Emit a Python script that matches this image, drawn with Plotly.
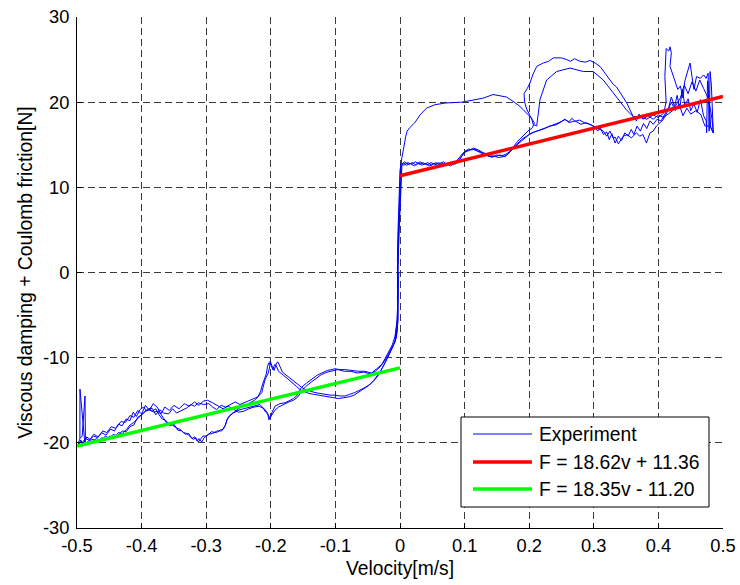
import plotly.graph_objects as go

# ---------------------------------------------------------------------------
# Measured friction force vs. velocity (one continuous record, several cycles)
# ---------------------------------------------------------------------------
# stick -> slip transition, first rise through zero velocity
rise1_v = [-0.008, -0.005, -0.003, -0.004, -0.003, -0.002, -0.001, 0.000, 0.001]
rise1_f = [-7.9, -6.0, -3.0, 0.5, 3.5, 6.5, 9.0, 11.5, 12.6]

# positive side, upper branch and inner loop (first cycle)
pos_up1_v = [0.003, 0.006, 0.009, 0.011, 0.015, 0.023, 0.031, 0.041, 0.054, 0.070,
             0.085, 0.0955, 0.110, 0.119, 0.130, 0.144, 0.155, 0.165, 0.175, 0.184,
             0.191, 0.196, 0.201, 0.2038, 0.206, 0.2116, 0.2167, 0.227, 0.2426, 0.2632,
             0.2838, 0.299, 0.3147, 0.330, 0.3505, 0.361, 0.372, 0.382, 0.392, 0.400,
             0.408, 0.412, 0.410, 0.412, 0.416, 0.418, 0.420, 0.418, 0.424, 0.430,
             0.434, 0.438, 0.441, 0.446, 0.449, 0.452, 0.455, 0.459, 0.465, 0.470,
             0.474, 0.477, 0.4785, 0.480, 0.482, 0.485]
pos_up1_f = [13.5, 15.0, 16.0, 16.6, 17.0, 17.6, 18.5, 19.3, 19.7, 19.9,
             20.0, 20.0, 20.2, 20.3, 20.5, 20.9, 20.7, 20.6, 20.1, 19.6,
             19.1, 18.7, 18.3, 18.1, 17.4, 17.2, 20.3, 22.6, 23.6, 24.0,
             23.6, 23.6, 22.6, 21.1, 19.1, 18.3, 18.3, 18.0, 18.5, 18.2,
             18.7, 20.0, 23.0, 26.3, 26.0, 26.5, 25.8, 24.2, 22.8, 21.5,
             21.9, 20.5, 22.5, 24.0, 24.6, 23.0, 21.5, 23.0, 22.8, 23.2,
             22.8, 23.4, 16.6, 23.6, 22.0, 16.4]

# positive side, lower branch travelled back toward zero (first cycle)
pos_dn1_v = [0.480, 0.472, 0.466, 0.458, 0.450, 0.444, 0.438, 0.432, 0.426, 0.420,
             0.414, 0.407, 0.397, 0.392, 0.387, 0.3815, 0.376, 0.371, 0.366, 0.358,
             0.352, 0.3456, 0.338, 0.333, 0.330, 0.325, 0.320, 0.3147, 0.309, 0.304,
             0.296, 0.288, 0.280, 0.271, 0.262, 0.255, 0.248, 0.240, 0.232, 0.224,
             0.216, 0.208, 0.200, 0.192, 0.185, 0.178, 0.172, 0.166, 0.160, 0.152,
             0.145, 0.138, 0.130, 0.124, 0.118, 0.112, 0.106, 0.100, 0.096, 0.092,
             0.088, 0.082, 0.076, 0.070, 0.064, 0.058, 0.052, 0.046, 0.040, 0.034,
             0.028, 0.022, 0.016, 0.010, 0.005, 0.002]
pos_dn1_f = [17.2, 17.2, 18.5, 19.0, 18.6, 19.3, 18.4, 19.8, 19.0, 20.0,
             18.9, 17.9, 17.2, 16.6, 16.4, 15.2, 16.2, 16.0, 16.4, 15.8,
             16.2, 16.0, 15.1, 15.9, 15.8, 16.6, 16.0, 16.6, 16.8, 17.0,
             17.3, 17.6, 17.4, 17.8, 17.6, 18.0, 17.6, 17.3, 17.2, 16.9,
             16.7, 16.5, 16.2, 15.7, 15.2, 14.8, 14.3, 13.8, 13.6, 13.5,
             13.7, 13.6, 13.9, 14.2, 14.3, 14.5, 14.3, 14.1, 13.7, 13.3,
             12.9, 12.7, 12.9, 12.6, 12.9, 12.6, 12.8, 12.5, 12.8, 12.6,
             12.9, 12.5, 12.8, 12.6, 12.9, 12.4]

# drop through zero velocity (first cycle)
fall1_v = [0.001, 0.000, -0.002, -0.003, -0.004, -0.003, -0.005, -0.008]
fall1_f = [11.0, 8.0, 4.0, 0.0, -3.0, -5.5, -7.3, -8.2]

# negative side toward -0.5 m/s (first cycle)
neg_out1_v = [-0.013, -0.018, -0.023, -0.028, -0.033, -0.039, -0.046, -0.054, -0.062, -0.070,
              -0.078, -0.085, -0.093, -0.1006, -0.108, -0.116, -0.124, -0.1316, -0.140, -0.147,
              -0.152, -0.157, -0.163, -0.168, -0.173, -0.178, -0.182, -0.186, -0.189, -0.191,
              -0.195, -0.198, -0.201, -0.202, -0.204, -0.207, -0.209, -0.212, -0.214, -0.220,
              -0.226, -0.233, -0.240, -0.2477, -0.255, -0.263, -0.270, -0.277, -0.284, -0.290,
              -0.296, -0.3045, -0.312, -0.318, -0.324, -0.330, -0.338, -0.346, -0.352, -0.358,
              -0.366, -0.372, -0.378, -0.383, -0.387, -0.392, -0.397, -0.4025, -0.408, -0.413,
              -0.418, -0.424, -0.430, -0.436, -0.442, -0.448, -0.455, -0.462, -0.468, -0.474,
              -0.480, -0.485, -0.488, -0.4954, -0.4955, -0.492, -0.4876, -0.4870, -0.490, -0.494,
              -0.497]
neg_out1_f = [-9.1, -9.8, -10.6, -11.4, -12.0, -12.6, -13.1, -13.5, -13.8, -14.1,
              -14.3, -14.5, -14.5, -14.4, -14.4, -14.3, -14.2, -14.1, -13.9, -13.75,
              -13.5, -13.2, -12.8, -12.5, -12.2, -12.0, -11.7, -11.0, -10.5, -10.6,
              -11.5, -11.0, -10.4, -11.2, -11.8, -12.3, -12.6, -13.5, -14.1, -14.6,
              -14.8, -15.0, -15.3, -15.5, -15.2, -15.5, -15.8, -15.6, -16.1, -15.8,
              -15.4, -15.5, -15.3, -15.7, -15.5, -15.9, -16.2, -16.5, -16.0, -16.6,
              -16.5, -16.1, -16.7, -16.0, -15.9, -16.3, -15.8, -16.1, -16.9, -16.4,
              -17.4, -17.2, -18.0, -17.8, -18.6, -18.4, -19.1, -18.8, -19.4, -19.2,
              -19.6, -19.3, -19.9, -13.7, -19.5, -19.2, -14.5, -19.6, -20.1, -19.7,
              -20.3]

# negative side back toward zero (first cycle)
neg_in1_v = [-0.492, -0.486, -0.480, -0.475, -0.468, -0.462, -0.455, -0.449, -0.442, -0.436,
             -0.430, -0.423, -0.418, -0.412, -0.407, -0.4025, -0.398, -0.393, -0.387, -0.381,
             -0.376, -0.3715, -0.366, -0.3613, -0.356, -0.350, -0.345, -0.3406, -0.335, -0.330,
             -0.325, -0.320, -0.316, -0.3122, -0.309, -0.305, -0.2993, -0.292, -0.284, -0.278,
             -0.2735, -0.270, -0.268, -0.263, -0.258, -0.2477, -0.242, -0.237, -0.230, -0.224,
             -0.2167, -0.212, -0.208, -0.205, -0.2012, -0.198, -0.1935, -0.186, -0.178, -0.170,
             -0.165, -0.160, -0.156, -0.1527, -0.145, -0.137, -0.129, -0.1212, -0.112, -0.1006,
             -0.093, -0.085, -0.075, -0.0646, -0.055, -0.044, -0.036, -0.0283, -0.023, -0.018,
             -0.012, -0.0077]
neg_in1_f = [-20.4, -20.0, -19.7, -19.6, -19.9, -19.4, -19.6, -19.2, -19.4, -18.8,
             -18.9, -18.4, -17.9, -17.6, -17.2, -16.9, -16.5, -16.2, -16.1, -16.4,
             -16.3, -16.5, -17.1, -17.65, -17.7, -18.0, -18.3, -18.4, -18.8, -18.9,
             -19.2, -19.6, -19.4, -19.9, -19.6, -19.2, -19.2, -18.7, -18.8, -18.5,
             -18.4, -17.9, -17.3, -16.8, -16.5, -16.1, -16.0, -15.9, -15.7, -15.6,
             -15.5, -15.9, -16.4, -16.6, -17.1, -16.4, -15.7, -15.4, -15.3, -15.0,
             -14.8, -14.5, -14.0, -13.5, -13.0, -12.55, -12.1, -11.8, -11.5, -11.3,
             -11.4, -11.4, -11.5, -11.6, -11.6, -11.8, -11.3, -10.8, -10.1, -9.45,
             -8.5, -7.5]

# second rise through zero velocity
rise2_v = [-0.004, -0.003, -0.004, -0.003, -0.002, -0.001, 0.000, 0.002]
rise2_f = [-5.5, -2.0, 1.5, 5.0, 8.0, 10.5, 12.0, 12.9]

# positive side, lower branch outward (second cycle)
pos_up2_v = [0.006, 0.012, 0.018, 0.024, 0.030, 0.036, 0.042, 0.048, 0.054, 0.060,
             0.066, 0.072, 0.078, 0.084, 0.089, 0.093, 0.097, 0.101, 0.106, 0.111,
             0.116, 0.121, 0.126, 0.132, 0.139, 0.147, 0.155, 0.1625, 0.168, 0.173,
             0.180, 0.188, 0.196, 0.204, 0.212, 0.219, 0.227, 0.235, 0.243, 0.250,
             0.2554, 0.262, 0.266, 0.271, 0.278, 0.2864, 0.294, 0.3019, 0.306, 0.310,
             0.315, 0.320, 0.324, 0.328, 0.333, 0.338, 0.343, 0.348, 0.353, 0.358,
             0.362, 0.367, 0.372, 0.377, 0.382, 0.387, 0.392, 0.398, 0.404, 0.410,
             0.416, 0.420, 0.425, 0.429, 0.433, 0.437, 0.441, 0.446, 0.450, 0.455,
             0.460, 0.465, 0.470, 0.474, 0.4747, 0.476, 0.478, 0.481, 0.485, 0.483]
pos_up2_f = [12.6, 12.9, 12.7, 13.0, 12.7, 12.9, 12.6, 12.9, 12.7, 12.9,
             12.6, 12.8, 12.5, 12.8, 13.2, 13.6, 14.0, 14.2, 14.5, 14.4,
             14.5, 14.2, 14.0, 13.8, 13.7, 13.6, 13.8, 13.6, 14.0, 14.4,
             15.0, 15.6, 16.0, 16.4, 16.6, 16.8, 17.0, 17.2, 17.5, 17.75,
             17.95, 17.7, 18.1, 17.75, 17.9, 17.55, 17.4, 17.1, 16.6, 17.0,
             16.2, 16.5, 15.6, 16.3, 15.2, 16.0, 15.5, 16.4, 16.0, 16.8,
             16.2, 17.2, 16.6, 17.5, 16.9, 17.8, 17.4, 18.0, 17.8, 18.6,
             19.4, 20.6, 19.5, 20.8, 19.2, 21.5, 19.6, 20.4, 19.0, 19.8,
             18.8, 20.3, 18.4, 17.8, 16.4, 22.5, 21.0, 17.0, 16.4, 18.0]

# positive side, return over the large outer loop (second cycle)
pos_dn2_v = [0.478, 0.470, 0.464, 0.458, 0.452, 0.446, 0.440, 0.434, 0.428, 0.422,
             0.415, 0.408, 0.400, 0.392, 0.384, 0.376, 0.370, 0.366, 0.361, 0.356,
             0.351, 0.346, 0.341, 0.335, 0.330, 0.325, 0.318, 0.3096, 0.302, 0.294,
             0.287, 0.2786, 0.270, 0.264, 0.258, 0.250, 0.2373, 0.230, 0.2218, 0.2116,
             0.206, 0.2012, 0.197, 0.192, 0.193, 0.196, 0.200, 0.204, 0.208, 0.205,
             0.198, 0.190, 0.182, 0.175, 0.170, 0.164, 0.157, 0.150, 0.142, 0.135,
             0.128, 0.121, 0.114, 0.108, 0.102, 0.098, 0.094, 0.090, 0.085, 0.079,
             0.073, 0.067, 0.061, 0.055, 0.049, 0.043, 0.037, 0.031, 0.025, 0.019,
             0.013, 0.007, 0.003, 0.002]
pos_dn2_f = [20.3, 21.6, 22.6, 21.3, 22.4, 21.0, 22.0, 20.5, 19.8, 19.0,
             18.6, 18.2, 18.5, 18.0, 18.4, 18.0, 18.6, 17.8, 18.3, 19.2,
             19.9, 20.5, 21.1, 21.8, 22.1, 22.6, 23.4, 24.2, 24.6, 24.9,
             24.7, 24.8, 25.1, 24.8, 25.0, 25.2, 25.2, 24.8, 24.6, 24.2,
             23.3, 22.25, 21.6, 21.0, 20.0, 19.2, 18.6, 18.0, 17.6, 17.0,
             16.6, 16.0, 15.4, 14.7, 14.2, 13.9, 13.7, 13.8, 13.5, 13.9,
             14.1, 14.4, 14.6, 14.4, 14.3, 13.9, 13.4, 13.0, 12.7, 12.9,
             12.7, 13.0, 12.7, 12.9, 12.6, 12.9, 12.7, 13.0, 12.6, 12.9,
             12.7, 13.0, 12.7, 11.5]

# second drop through zero velocity
fall2_v = [0.001, -0.001, -0.003, -0.004, -0.003, -0.004, -0.007]
fall2_f = [9.0, 6.0, 2.0, -1.5, -4.5, -6.5, -8.0]

# negative side toward -0.5 m/s (second cycle)
neg_out2_v = [-0.012, -0.018, -0.025, -0.031, -0.038, -0.046, -0.056, -0.066, -0.076, -0.086,
              -0.096, -0.104, -0.113, -0.122, -0.130, -0.138, -0.146, -0.152, -0.158, -0.165,
              -0.172, -0.180, -0.188, -0.194, -0.199, -0.203, -0.205, -0.210, -0.218, -0.226,
              -0.234, -0.242, -0.250, -0.258, -0.266, -0.274, -0.282, -0.290, -0.298, -0.3045,
              -0.311, -0.318, -0.326, -0.334, -0.342, -0.350, -0.357, -0.364, -0.370, -0.376,
              -0.382, -0.388, -0.394, -0.400, -0.406, -0.412, -0.418, -0.425, -0.432, -0.440,
              -0.447, -0.454, -0.460, -0.467, -0.474, -0.481, -0.487, -0.492, -0.496, -0.498]
neg_out2_f = [-8.8, -9.6, -10.5, -11.1, -11.6, -11.9, -11.7, -11.8, -11.6, -11.6,
              -11.4, -11.5, -11.7, -12.0, -12.4, -12.9, -13.4, -13.9, -14.6, -15.0,
              -15.2, -15.5, -15.8, -16.2, -16.8, -17.3, -16.5, -16.0, -15.7, -15.8,
              -16.0, -16.3, -16.4, -16.0, -15.7, -16.0, -15.6, -15.3, -15.0, -15.1,
              -15.6, -15.2, -15.7, -15.4, -16.0, -15.6, -16.2, -15.8, -16.6, -15.8,
              -15.4, -16.2, -15.6, -16.6, -16.2, -17.0, -16.8, -17.6, -17.5, -18.3,
              -18.1, -18.8, -18.6, -19.3, -19.0, -19.7, -19.5, -20.0, -19.6, -20.2]

# negative side back toward zero (second cycle)
neg_in2_v = [-0.494, -0.488, -0.482, -0.476, -0.470, -0.463, -0.456, -0.450, -0.444, -0.437,
             -0.430, -0.424, -0.418, -0.412, -0.406, -0.400, -0.395, -0.390, -0.384, -0.378,
             -0.373, -0.368, -0.362, -0.356, -0.350, -0.344, -0.338, -0.332, -0.327, -0.322,
             -0.318, -0.314, -0.311, -0.307, -0.303, -0.297, -0.290, -0.283, -0.276, -0.271,
             -0.266, -0.261, -0.255, -0.248, -0.240, -0.232, -0.225, -0.220, -0.216, -0.213,
             -0.210, -0.207, -0.205, -0.203, -0.200, -0.197, -0.194, -0.192, -0.188, -0.184,
             -0.180, -0.175, -0.170, -0.165, -0.160, -0.154, -0.148, -0.141, -0.134, -0.127,
             -0.119, -0.111, -0.103, -0.095, -0.087, -0.079, -0.071, -0.063, -0.056, -0.049,
             -0.042, -0.036, -0.031, -0.026, -0.021, -0.016, -0.011, -0.006, -0.004, -0.003,
             -0.002]
neg_in2_f = [-20.3, -19.8, -20.2, -19.8, -19.5, -19.8, -19.2, -19.5, -19.0, -19.2,
             -18.6, -18.7, -18.1, -17.9, -17.0, -16.7, -16.4, -16.0, -16.3, -16.0,
             -16.7, -17.2, -17.4, -18.0, -17.8, -18.5, -18.6, -19.0, -18.9, -19.5,
             -19.3, -19.8, -19.5, -19.9, -19.4, -19.0, -18.9, -18.6, -18.6, -18.0,
             -17.0, -16.6, -16.3, -15.9, -15.6, -15.3, -15.0, -14.6, -14.0, -13.2,
             -12.4, -11.9, -11.0, -10.6, -10.8, -11.4, -10.8, -10.9, -11.6, -11.9,
             -12.1, -12.4, -12.7, -13.0, -13.4, -13.8, -14.0, -14.2, -14.3, -14.4,
             -14.5, -14.6, -14.7, -14.8, -14.7, -14.6, -14.4, -14.0, -13.7, -13.3,
             -12.8, -12.2, -11.7, -11.0, -10.3, -9.5, -8.7, -7.6, -6.0, -3.0,
             0.0]

exp_velocity = (rise1_v + pos_up1_v + pos_dn1_v + fall1_v + neg_out1_v + neg_in1_v
                + rise2_v + pos_up2_v + pos_dn2_v + fall2_v + neg_out2_v + neg_in2_v)
exp_force = (rise1_f + pos_up1_f + pos_dn1_f + fall1_f + neg_out1_f + neg_in1_f
             + rise2_f + pos_up2_f + pos_dn2_f + fall2_f + neg_out2_f + neg_in2_f)

# Linear fits  F = c_v * v + F_c  for each direction of motion
fit_pos_slope, fit_pos_offset = 18.62, 11.36
fit_neg_slope, fit_neg_offset = 18.35, -11.20
fit_pos_v = [0.0, 0.5]
fit_neg_v = [-0.5, 0.0]
fit_pos_f = [fit_pos_slope * v + fit_pos_offset for v in fit_pos_v]
fit_neg_f = [fit_neg_slope * v + fit_neg_offset for v in fit_neg_v]

legend_labels = ["Experiment", "F = 18.62v + 11.36", "F = 18.35v - 11.20"]

x_ticks = [-0.5, -0.4, -0.3, -0.2, -0.1, 0.0, 0.1, 0.2, 0.3, 0.4, 0.5]
x_tick_text = ["-0.5", "-0.4", "-0.3", "-0.2", "-0.1", "0", "0.1", "0.2", "0.3", "0.4", "0.5"]
y_ticks = [-30, -20, -10, 0, 10, 20, 30]
y_tick_text = ["-30", "-20", "-10", "0", "10", "20", "30"]

# ---------------------------------------------------------------------------
W, H = 740, 585
L, R, T, B = 77, 723, 17, 528          # plot area edges in pixels
FONT = "Liberation Sans, Arial, sans-serif"
TEXT_SIZE = 19.3
TICK_SIZE = 18.3
BLUE, RED, GREEN = "#0000FF", "#FF0000", "#00FF00"
GRID = "#3a3a3a"


def px_x(px):
    return (px - L) / (R - L)


def px_y(py):
    return (B - py) / (B - T)


fig = go.Figure()
fig.add_trace(go.Scatter(x=exp_velocity, y=exp_force, mode="lines",
                         line=dict(color=BLUE, width=1), showlegend=False,
                         name=legend_labels[0]))
fig.add_trace(go.Scatter(x=fit_pos_v, y=fit_pos_f, mode="lines",
                         line=dict(color=RED, width=3.5), showlegend=False,
                         name=legend_labels[1]))
fig.add_trace(go.Scatter(x=fit_neg_v, y=fit_neg_f, mode="lines",
                         line=dict(color=GREEN, width=3.5), showlegend=False,
                         name=legend_labels[2]))

axis_common = dict(
    showgrid=True, gridcolor=GRID, gridwidth=1, griddash="7px,4px",
    zeroline=False, showline=True, linecolor="black", linewidth=1,
    ticks="inside", ticklen=5, tickcolor="black", tickwidth=1,
    tickfont=dict(family=FONT, size=TICK_SIZE, color="black"),
    mirror=False, automargin=False,
)

fig.update_xaxes(range=[-0.5, 0.5], tickvals=x_ticks, ticktext=x_tick_text,
                 title=dict(text="Velocity[m/s]", standoff=6,
                            font=dict(family=FONT, size=TEXT_SIZE, color="black")),
                 ticklabelstandoff=1, **axis_common)
fig.update_yaxes(range=[-30, 30], tickvals=y_ticks, ticktext=y_tick_text,
                 title=dict(text="Viscous damping + Coulomb friction[N]", standoff=5,
                            font=dict(family=FONT, size=TEXT_SIZE, color="black")),
                 ticklabelstandoff=3, **axis_common)

# legend box drawn in paper coordinates
shapes = [dict(type="rect", xref="paper", yref="paper",
               x0=px_x(461), x1=px_x(709), y0=px_y(507), y1=px_y(417),
               line=dict(color="black", width=1), fillcolor="white", layer="above")]
annotations = []
legend_rows = [434, 462, 489]
legend_colors = [(BLUE, 1), (RED, 3.5), (GREEN, 3.5)]
for row_y, (col, wid), label in zip(legend_rows, legend_colors, legend_labels):
    shapes.append(dict(type="line", xref="paper", yref="paper",
                       x0=px_x(473), x1=px_x(532), y0=px_y(row_y), y1=px_y(row_y),
                       line=dict(color=col, width=wid), layer="above"))
    annotations.append(dict(xref="paper", yref="paper", x=px_x(537), y=px_y(row_y),
                            xanchor="left", yanchor="middle", text=label, showarrow=False,
                            font=dict(family=FONT, size=TEXT_SIZE, color="black")))

fig.update_layout(
    width=W, height=H,
    margin=dict(l=L, r=W - R, t=T, b=H - B, pad=0, autoexpand=False),
    plot_bgcolor="white", paper_bgcolor="white",
    shapes=shapes, annotations=annotations,
    showlegend=False,
)

fig.write_html("out.html")
